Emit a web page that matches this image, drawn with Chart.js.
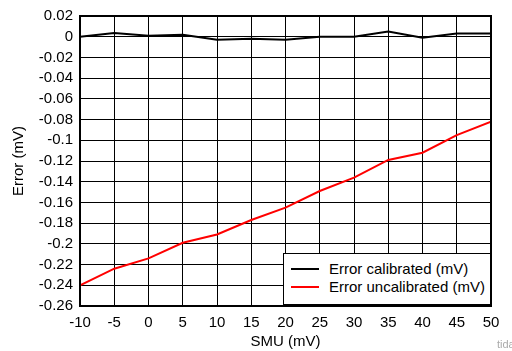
<!DOCTYPE html>
<html lang="en">
<head>
    <meta charset="UTF-8">
    <title>Error calibrated vs uncalibrated</title>
    <script src="https://cdn.jsdelivr.net/npm/chart.js"></script>
    <style>
        body {
            margin: 0;
            padding: 0;
            background: #fff;
            font-family: "Liberation Sans", Arial, sans-serif;
        }

        #wrap {
            position: relative;
            width: 512px;
            height: 351px;
            overflow: hidden;
        }

        /* Legende sitzt im Plotbereich unten rechts */
        #legend {
            position: absolute;
            left: 283px;
            top: 253px;
            width: 206px;
            height: 50px;
            border: 1.5px solid #000;
            background: #fff;
            font-size: 15px;
            color: #000;
        }

        .legend-row {
            position: absolute;
            left: 7px;
            display: flex;
            align-items: center;
            white-space: nowrap;
        }

        .legend-row span.swatch {
            display: inline-block;
            width: 28px;
            height: 2px;
            margin-right: 10px;
        }

        #mark {
            position: absolute;
            left: 497px;
            top: 338px;
            font-size: 11px;
            color: #aaa;
            white-space: nowrap;
        }
    </style>
</head>
<body>
    <div id="wrap">
        <canvas id="errChart" width="512" height="351"></canvas>
        <div id="legend">
            <div class="legend-row" style="top: 6px;"><span class="swatch" style="background:#000"></span>Error calibrated (mV)</div>
            <div class="legend-row" style="top: 24px;"><span class="swatch" style="background:#ff0000"></span>Error uncalibrated (mV)</div>
        </div>
        <div id="mark">tidas</div>
    </div>

    <script>
        // SMU Spannung (mV)
        const smu = [-10, -5, 0, 5, 10, 15, 20, 25, 30, 35, 40, 45, 50];

        // Fehler nach Kalibrierung (mV)
        const errCalibrated = [0.000, 0.0035, 0.001, 0.002, -0.003, -0.002, -0.003, 0.000, 0.000, 0.005, -0.001, 0.003, 0.003];

        // Fehler ohne Kalibrierung (mV)
        const errUncalibrated = [-0.240, -0.224, -0.214, -0.199, -0.191, -0.177, -0.165, -0.149, -0.136, -0.119, -0.112, -0.095, -0.082];

        const xTicks = { min: -10, max: 50, step: 5 };
        const yTicks = { min: -0.26, max: 0.02, step: 0.02 };

        function toPoints(ys) {
            return smu.map((x, i) => ({ x: x, y: ys[i] }));
        }

        // Rahmen um den Plotbereich
        const frame = {
            id: 'frame',
            afterDraw(chart) {
                const a = chart.chartArea;
                const c = chart.ctx;
                c.save();
                c.strokeStyle = '#000';
                c.lineWidth = 2;
                c.strokeRect(a.left, a.top, a.right - a.left, a.bottom - a.top);
                c.restore();
            }
        };

        const font = { family: '"Liberation Sans", Arial, sans-serif', size: 15 };

        new Chart(document.getElementById('errChart').getContext('2d'), {
            type: 'line',
            data: {
                datasets: [
                    {
                        label: 'Error calibrated (mV)',
                        data: toPoints(errCalibrated),
                        borderColor: '#000',
                        borderWidth: 2,
                        pointRadius: 0,
                        tension: 0
                    },
                    {
                        label: 'Error uncalibrated (mV)',
                        data: toPoints(errUncalibrated),
                        borderColor: '#ff0000',
                        borderWidth: 2,
                        pointRadius: 0,
                        tension: 0
                    }
                ]
            },
            options: {
                responsive: false,
                animation: false,
                layout: { padding: { top: 15, right: 21, left: 10, bottom: 0 } },
                plugins: {
                    legend: { display: false },
                    tooltip: { enabled: false }
                },
                scales: {
                    x: {
                        type: 'linear',
                        min: xTicks.min,
                        max: xTicks.max,
                        afterFit(scale) { scale.height = 45; },
                        ticks: {
                            stepSize: xTicks.step,
                            autoSkip: false,
                            color: '#000',
                            font: font,
                            padding: 8,
                            maxRotation: 0
                        },
                        grid: { color: '#000', lineWidth: 1, drawTicks: false },
                        border: { display: false },
                        title: {
                            display: true,
                            text: 'SMU (mV)',
                            color: '#000',
                            font: font,
                            padding: { top: 0, bottom: 0 }
                        }
                    },
                    y: {
                        type: 'linear',
                        min: yTicks.min,
                        max: yTicks.max,
                        afterFit(scale) { scale.width = 70; },
                        ticks: {
                            stepSize: yTicks.step,
                            autoSkip: false,
                            color: '#000',
                            font: font,
                            padding: 7,
                            callback: function(v) { return String(+v.toFixed(2)); }
                        },
                        grid: { color: '#000', lineWidth: 1, drawTicks: false },
                        border: { display: false },
                        title: {
                            display: true,
                            text: 'Error (mV)',
                            color: '#000',
                            font: font,
                            padding: { top: 0, bottom: 0 }
                        }
                    }
                }
            },
            plugins: [frame]
        });
    </script>
</body>
</html>
